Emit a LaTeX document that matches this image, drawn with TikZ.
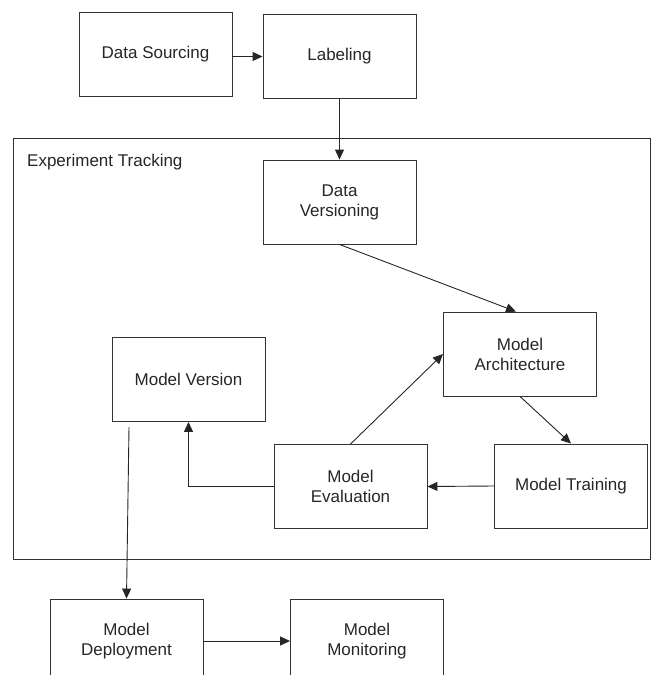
\documentclass[tikz,border=0pt]{standalone}
\usepackage{fontspec}
\setmainfont{Liberation Sans}
\usetikzlibrary{arrows.meta}
\begin{document}
\begin{tikzpicture}[x=1pt,y=1pt]
\tikzstyle{every node}+=[inner sep=0pt, font=\fontsize{17}{20}\selectfont, text=black!85]
\tikzstyle{box}=[draw=black!80, line width=0.9pt, minimum width=153pt, minimum height=84pt, align=center]
\tikzstyle{link}=[draw=black!85, line width=0.9pt, -{Triangle[length=10pt,width=9pt]}]
\useasboundingbox (0,0) rectangle (651,-675);
\draw [black!80, line width=0.9pt] (13,-138) rectangle (650.5,-559);
\node [anchor=west] (track) at (27,-162) {Experiment Tracking};
\node [box] (src) at (155.5,-54) {Data Sourcing};
\node [box] (lab) at (339.5,-56.5) {Labeling};
\node [box] (dver) at (339.5,-202) {Data\\Versioning};
\node [box] (arch) at (520,-354) {Model\\Architecture};
\node [box] (mver) at (188.5,-379.5) {Model Version};
\node [box] (eval) at (350.5,-486.5) {Model\\Evaluation};
\node [box] (train) at (571,-486) {Model Training};
\node [box] (depl) at (126.5,-641) {Model\\Deployment};
\node [box] (mon) at (367,-641) {Model\\Monitoring};
\coordinate (vfoot) at (129,-427);
\draw [link] (src.east |- lab.west) -- (lab.west);
\draw [link] (lab.south) -- (dver.north);
\draw [link] (dver.south) -- ([xshift=-4pt]arch.north);
\draw [link] (eval.north) -- (arch.west);
\draw [link] (arch.south) -- (train.north);
\draw [link] (train.west) -- (eval.east);
\draw [link] (eval.west) -| (mver.south);
\draw [link] (vfoot) -- (depl.north);
\draw [link] (depl.east) -- (mon.west);
\end{tikzpicture}
\end{document}
